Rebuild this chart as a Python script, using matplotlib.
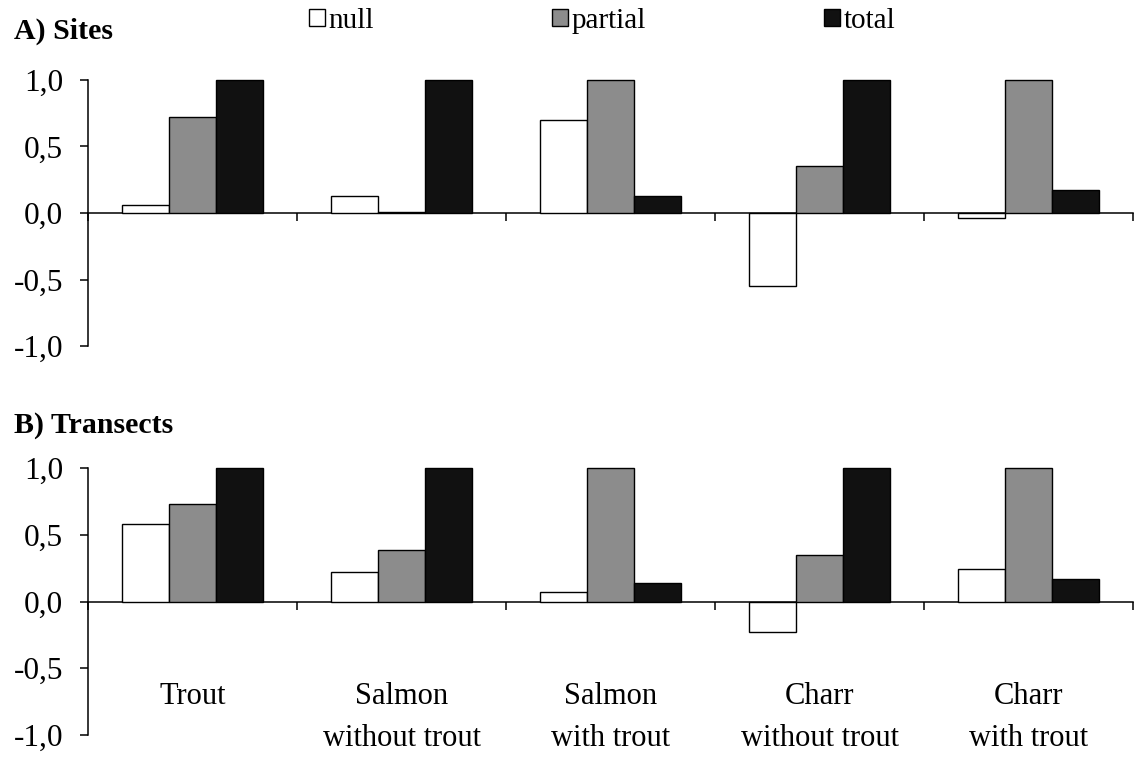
import numpy as np
import matplotlib
matplotlib.use("Agg")
import matplotlib.pyplot as plt
from matplotlib.patches import Patch

plt.rcParams['font.family'] = ['Liberation Serif', 'DejaVu Serif']

groups = ["Trout", "Salmon\nwithout trout", "Salmon\nwith trout",
          "Charr\nwithout trout", "Charr\nwith trout"]
series = ["null", "partial", "total"]
colors = ["white", "#8c8c8c", "#111111"]

sites_null = [0.06, 0.13, 0.70, -0.55, -0.04]
sites_partial = [0.72, 0.01, 1.0, 0.35, 1.0]
sites_total = [1.0, 1.0, 0.13, 1.0, 0.17]

transects_null = [0.58, 0.22, 0.075, -0.23, 0.245]
transects_partial = [0.73, 0.385, 1.0, 0.35, 1.0]
transects_total = [1.0, 1.0, 0.14, 1.0, 0.17]

yticks = [-1.0, -0.5, 0.0, 0.5, 1.0]
ytick_labels = ["-1,0", "-0,5", "0,0", "0,5", "1,0"]


def draw_panel(ax, values, labels=False):
    x = np.arange(len(groups))
    w = 0.225
    for i, (vals, col) in enumerate(zip(values, colors)):
        ax.bar(x + (i - 1) * w, vals, width=w, color=col,
               edgecolor="black", linewidth=1.0, clip_on=False, zorder=3)
    ax.set_xlim(-0.5, len(groups) - 0.5)
    ax.set_ylim(-1, 1)
    ax.spines['top'].set_visible(False)
    ax.spines['right'].set_visible(False)
    ax.spines['bottom'].set_position(('data', 0))
    ax.spines['bottom'].set_linewidth(1.1)
    ax.spines['left'].set_linewidth(1.1)
    ax.set_xticks(np.arange(len(groups) + 1) - 0.5)
    ax.set_xticklabels([])
    ax.set_yticks(yticks)
    ax.set_yticklabels(ytick_labels)
    ax.tick_params(axis='y', direction='out', length=6, width=1.1,
                   labelsize=22.5, pad=12)
    ax.tick_params(axis='x', direction='out', length=6, width=1.1)
    if labels:
        for xi, g in zip(x, groups):
            ax.text(xi, -0.6, g, ha='center', va='top', fontsize=22,
                    linespacing=1.6)


fig = plt.figure(figsize=(11.36, 7.75), dpi=100)
ax1 = fig.add_axes([0.0775, 0.5535, 0.92, 0.3433])
ax2 = fig.add_axes([0.0775, 0.0516, 0.92, 0.3445])

draw_panel(ax1, [sites_null, sites_partial, sites_total])
draw_panel(ax2, [transects_null, transects_partial, transects_total], labels=True)

fig.text(0.0123, 0.960, "A) Sites", fontsize=21.5, fontweight='bold', va='center')
fig.text(0.0123, 0.451, "B) Transects", fontsize=21.5, fontweight='bold', va='center')

handles = [Patch(facecolor=c, edgecolor='black', linewidth=1.0) for c in colors]
fig.legend(handles, series, loc='center left', bbox_to_anchor=(0.272, 0.973),
           ncol=3, frameon=False, fontsize=21, handlelength=0.55,
           handleheight=0.55, handletextpad=0.12, columnspacing=6.1,
           borderpad=0, borderaxespad=0)

fig.savefig("out.png", dpi=100)
